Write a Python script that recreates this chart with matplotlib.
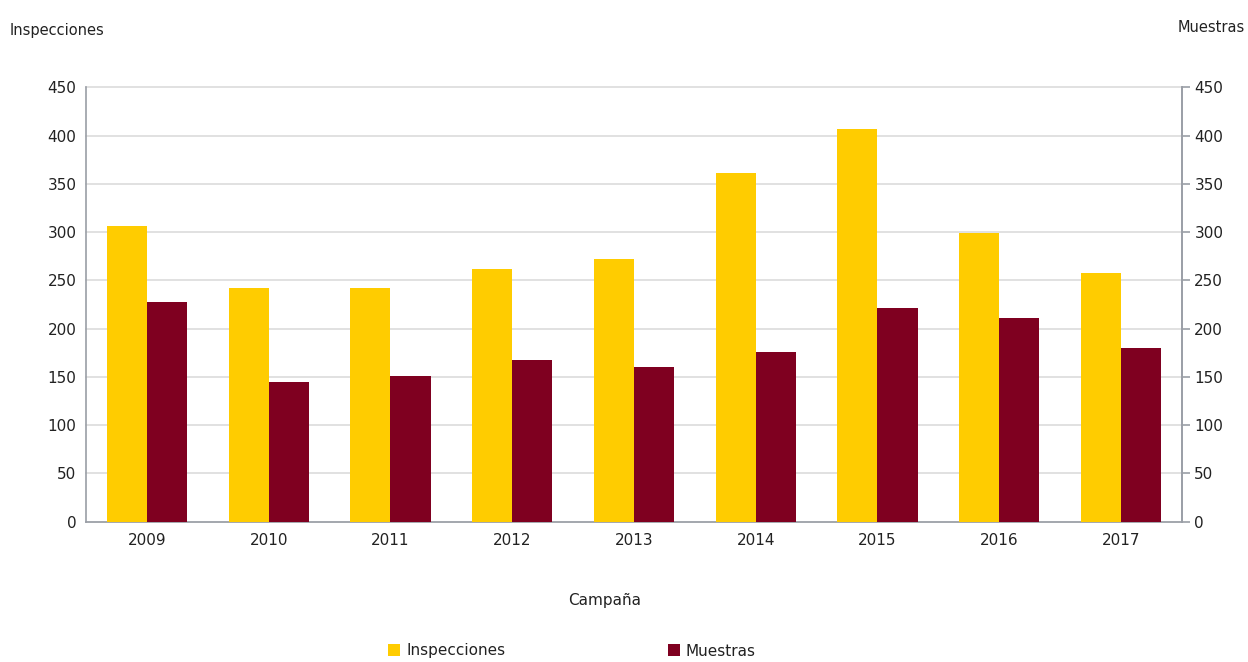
import matplotlib
matplotlib.use("Agg")
import matplotlib.pyplot as plt
import numpy as np
from matplotlib.patches import Patch

# ── data ──────────────────────────────────────────────────────────────────────
YEARS = ["2009", "2010", "2011", "2012", "2013", "2014", "2015", "2016", "2017"]
INSPECCIONES = [306, 242, 242, 262, 272, 361, 407, 299, 258]
MUESTRAS = [228, 145, 151, 167, 160, 176, 221, 211, 180]

# ── palette ───────────────────────────────────────────────────────────────────
C_YEL = "#FFCC00"
C_RED = "#7F0020"
C_AX = "#9A9EA6"
C_GRID = "#DCDCDC"
C_TXT = "#222222"

plt.rcParams["font.family"] = ["DejaVu Sans"]
FS = 11

fig = plt.figure(figsize=(12.48, 6.62), dpi=100, facecolor="white")
ax = fig.add_axes([0.069, 0.212, 0.878, 0.656])

x = np.arange(len(YEARS))
w = 0.33
ax.bar(x - w / 2, INSPECCIONES, w, color=C_YEL, zorder=3)
ax.bar(x + w / 2, MUESTRAS, w, color=C_RED, zorder=3)

ax.set_xlim(-0.5, len(YEARS) - 0.5)
ax.set_ylim(0, 450)
ax.set_yticks(range(0, 451, 50))
ax.set_xticks(x)
ax.set_xticklabels(YEARS)
ax.yaxis.grid(True, color=C_GRID, linewidth=1.2, zorder=0)
ax.set_axisbelow(True)
for gl in ax.get_ygridlines():
    gl.set_clip_on(False)

ax.spines["top"].set_visible(False)
for side in ("left", "bottom", "right"):
    ax.spines[side].set_color(C_AX)
    ax.spines[side].set_linewidth(1.2)

ax.tick_params(axis="x", length=0, pad=8, labelsize=FS, colors=C_TXT)
ax.tick_params(axis="y", length=0, pad=7, labelsize=FS, colors=C_TXT)

ax2 = ax.twinx()
ax2.set_ylim(0, 450)
ax2.set_yticks(range(0, 451, 50))
ax2.tick_params(axis="y", length=6, width=1.2, color=C_AX, pad=3,
                labelsize=FS, labelcolor=C_TXT)
for side in ("top", "left", "bottom"):
    ax2.spines[side].set_visible(False)
ax2.spines["right"].set_color(C_AX)
ax2.spines["right"].set_linewidth(1.2)

# ── axis titles ───────────────────────────────────────────────────────────────
fig.text(10 / 1248, 1 - 30 / 662, "Inspecciones", fontsize=FS - 0.5,
         color=C_TXT, ha="left", va="center")
fig.text(1245 / 1248, 1 - 28 / 662, "Muestras", fontsize=FS - 0.5,
         color=C_TXT, ha="right", va="center")
fig.text(605 / 1248, 1 - 600 / 662, "Campaña", fontsize=FS,
         color=C_TXT, ha="center", va="center")

# ── legend ────────────────────────────────────────────────────────────────────
handles = [Patch(facecolor=C_YEL, label="Inspecciones"),
           Patch(facecolor=C_RED, label="Muestras")]
fig.legend(handles=handles, loc="center", bbox_to_anchor=(572 / 1248, 1 - 651 / 662),
           ncol=2, frameon=False, fontsize=FS, handlelength=0.8, handleheight=0.8,
           handletextpad=0.4, columnspacing=10.6, labelcolor=C_TXT)

fig.savefig("out.png", dpi=100, facecolor="white")
